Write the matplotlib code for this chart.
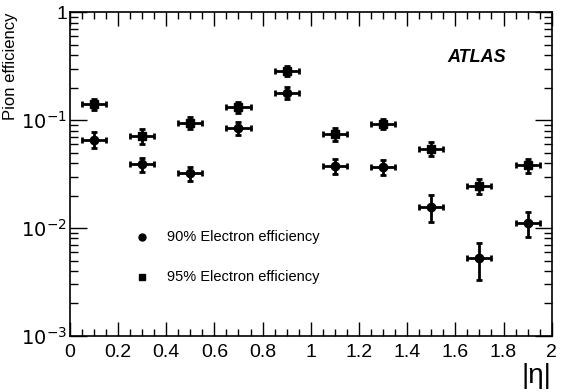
import matplotlib
matplotlib.use("Agg")
import matplotlib.pyplot as plt
from matplotlib.ticker import LogLocator, MultipleLocator, FixedLocator, FixedFormatter

plt.rcParams['font.family'] = ['Liberation Sans', 'DejaVu Sans']

eta = [0.1, 0.3, 0.5, 0.7, 0.9, 1.1, 1.3, 1.5, 1.7, 1.9]
eta_err = [0.05] * 10

# pion efficiency at 90% electron efficiency
eff90 = [0.066, 0.039, 0.032, 0.084, 0.18, 0.0375, 0.037, 0.0158, 0.0053, 0.0112]
err90 = [0.011, 0.006, 0.005, 0.011, 0.022, 0.006, 0.006, 0.0045, 0.0020, 0.0030]

# pion efficiency at 95% electron efficiency
eff95 = [0.14, 0.071, 0.094, 0.132, 0.284, 0.074, 0.092, 0.054, 0.0245, 0.038]
err95 = [0.017, 0.011, 0.012, 0.016, 0.03, 0.010, 0.010, 0.008, 0.004, 0.006]

fig = plt.figure(figsize=(5.63, 3.92), dpi=100)
ax = fig.add_axes([0.124, 0.143, 0.856, 0.826])

kw = dict(fmt='none', ecolor='black', elinewidth=2, capsize=2, capthick=2)
ax.errorbar(eta, eff90, xerr=eta_err, yerr=err90, **kw)
ax.errorbar(eta, eff95, xerr=eta_err, yerr=err95, **kw)
ax.plot(eta, eff90, 'o', color='black', ms=6)
ax.plot(eta, eff95, 's', color='black', ms=6)

ax.set_yscale('log')
ax.set_xlim(0, 2)
ax.set_ylim(1e-3, 1)

ax.xaxis.set_major_locator(MultipleLocator(0.2))
ax.xaxis.set_minor_locator(MultipleLocator(0.05))
ax.xaxis.set_major_formatter(FixedFormatter([]))
ax.yaxis.set_major_locator(FixedLocator([1e-3, 1e-2, 1e-1, 1]))
ax.yaxis.set_major_formatter(FixedFormatter(['$10^{-3}$', '$10^{-2}$', '$10^{-1}$', '1']))
ax.yaxis.set_minor_locator(LogLocator(base=10, subs=range(2, 10)))
ax.yaxis.set_minor_formatter(FixedFormatter([]))

ax.tick_params(which='both', direction='in', top=True, right=True, width=1)
ax.tick_params(which='major', length=12, labelsize=14)
ax.tick_params(which='minor', length=6)
ax.tick_params(axis='x', which='major', length=10)
ax.tick_params(axis='x', which='minor', length=5)
ax.tick_params(axis='y', which='major', pad=2)
for s in ax.spines.values():
    s.set_linewidth(1.2)

xlabels = ['0', '0.2', '0.4', '0.6', '0.8', '1', '1.2', '1.4', '1.6', '1.8', '2']
for i, lab in enumerate(xlabels):
    ax.text(i * 0.2, -0.025, lab, transform=ax.get_xaxis_transform(),
            ha='center', va='top', fontsize=14)

ax.set_ylabel('Pion efficiency', fontsize=12, loc='top', labelpad=2)
ax.text(1.0, -0.165, '|η|', transform=ax.transAxes, ha='right', va='bottom', fontsize=20)

ax.text(0.905, 0.861, 'ATLAS', transform=ax.transAxes, ha='right', va='center',
        fontsize=13, fontweight='bold', fontstyle='italic')

ax.plot([0.3], [0.0083], 'o', color='black', ms=5)
ax.plot([0.3], [0.0035], 's', color='black', ms=5)
ax.text(0.405, 0.0083, '90% Electron efficiency', va='center', fontsize=10.5)
ax.text(0.405, 0.0035, '95% Electron efficiency', va='center', fontsize=10.5)

fig.savefig('out.png', dpi=100)
